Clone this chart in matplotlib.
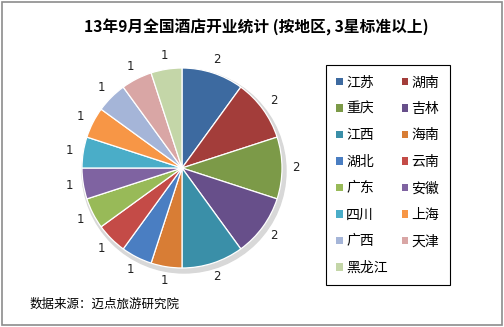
import matplotlib
matplotlib.use('Agg')
import matplotlib.pyplot as plt
from matplotlib.patches import Circle, Rectangle, Patch

plt.rcParams['font.family'] = ['Noto Sans CJK SC', 'DejaVu Sans']

# 数据
regions = ['江苏', '湖南', '重庆', '吉林', '江西', '海南', '湖北', '云南',
           '广东', '安徽', '四川', '上海', '广西', '天津', '黑龙江']
counts = [2, 2, 2, 2, 2, 1, 1, 1, 1, 1, 1, 1, 1, 1, 1]
colors = ['#3D6AA0', '#A33D3A', '#7C9A48', '#674F8A', '#3A8FA8',
          '#D87D35', '#4A7EC2', '#C44B47', '#98BA58', '#7F63A1',
          '#4AADC8', '#F79646', '#A5B5D8', '#D9A6A5', '#C4D6A8']

title = '13年9月全国酒店开业统计 (按地区, 3星标准以上)'
source = '数据来源：迈点旅游研究院'

W, H = 504, 327
fig = plt.figure(figsize=(W / 100, H / 100), dpi=100)
fig.patch.set_facecolor('white')

# 外框
fig.patches.append(Rectangle((2 / W, 2 / H), (W - 4) / W, (H - 4) / H,
                             transform=fig.transFigure, fill=False,
                             edgecolor='#8c8c8c', linewidth=1.2))

# 饼图位置 (中心 182,168 px, 半径 100 px)
cx, cy, half = 182, 168, 130
ax = fig.add_axes([(cx - half) / W, (H - cy - half) / H, 2 * half / W, 2 * half / H])

# 阴影
ax.add_patch(Circle((0.02, -0.03), 1.02, color='#d8d8d8', zorder=0))

wedges, texts = ax.pie(counts, colors=colors, startangle=90, counterclock=False,
                       labels=[str(c) for c in counts], labeldistance=1.14,
                       wedgeprops=dict(edgecolor='white', linewidth=0.9),
                       textprops=dict(fontsize=8.5, color='#222222',
                                      family=['DejaVu Sans']))
for t in texts:
    t.set_ha('center')
    t.set_va('center')
ax.set_xlim(-1.3, 1.3)
ax.set_ylim(-1.3, 1.3)
ax.set_aspect('equal')
ax.axis('off')

# 图例 (按行排列 -> 按列重排)
order = list(range(0, 15, 2)) + list(range(1, 15, 2))
handles = [Patch(facecolor=colors[i], edgecolor='none') for i in order]
labels = [regions[i] for i in order]
leg = fig.legend(handles, labels, ncol=2, loc='upper left',
                 bbox_to_anchor=(326 / W, 1 - 65 / H), borderaxespad=0,
                 fontsize=10, labelspacing=0.9, handlelength=0.45,
                 handleheight=0.45, handletextpad=0.25, columnspacing=1.0,
                 borderpad=0.75, fancybox=False, framealpha=1)
leg.get_frame().set_edgecolor('black')
leg.get_frame().set_linewidth(0.8)

fig.text(256 / W, 1 - 27 / H, title, ha='center', va='center',
         fontsize=11.3, fontweight='bold')
fig.text(30 / W, 1 - 304 / H, source, ha='left', va='center', fontsize=9)

fig.savefig('out.png', dpi=100)
